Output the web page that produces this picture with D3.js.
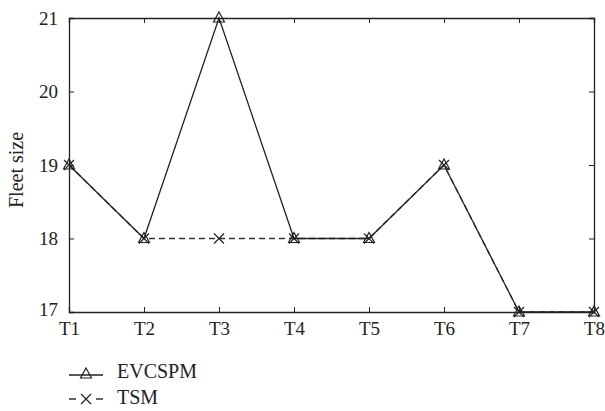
<!DOCTYPE html>
<html>
<head>
<meta charset="utf-8">
<script src="https://cdn.jsdelivr.net/npm/d3@7"></script>
<style>
  body { margin: 0; background: #fff; }
  svg text { font-family: "Liberation Serif", "Times New Roman", Times, serif; fill: #222; }
</style>
</head>
<body>
<div id="chart"></div>
<script>
// 数据
const periods = ["T1", "T2", "T3", "T4", "T5", "T6", "T7", "T8"];
const evcspm = [19, 18, 21, 18, 18, 19, 17, 17];
const tsm = [19, 18, 18, 18, 18, 19, 17, 17];
const yTicks = [17, 18, 19, 20, 21];

const width = 605, height = 411;
const margin = { top: 18, right: 11, bottom: 99, left: 69 };
const serif = '"Liberation Serif", "Times New Roman", Times, serif';

const svg = d3.select('#chart').append('svg')
    .attr('width', width)
    .attr('height', height);

const x = d3.scalePoint()
    .domain(periods)
    .range([margin.left, width - margin.right]);

const y = d3.scaleLinear()
    .domain([17, 21])
    .range([height - margin.bottom, margin.top]);

const ink = '#222';

// 坐标轴 (刻度朝内)
const xAxis = svg.append('g')
    .attr('transform', `translate(0,${height - margin.bottom})`)
    .call(d3.axisBottom(x).tickSize(-5).tickPadding(10));
const yAxis = svg.append('g')
    .attr('transform', `translate(${margin.left},0)`)
    .call(d3.axisLeft(y).tickValues(yTicks).tickSize(-5).tickPadding(11).tickFormat(d3.format('d')));

// 上/右边框的刻度
svg.append('g')
    .attr('transform', `translate(0,${margin.top})`)
    .call(d3.axisTop(x).tickSize(-5).tickFormat(''));
svg.append('g')
    .attr('transform', `translate(${width - margin.right},0)`)
    .call(d3.axisRight(y).tickValues(yTicks).tickSize(-5).tickFormat(''));

svg.selectAll('g').attr('font-family', serif);
svg.selectAll('.domain').attr('stroke', ink).attr('stroke-width', 1.3);
svg.selectAll('.tick line').attr('stroke', ink).attr('stroke-width', 1);
svg.selectAll('.tick text')
    .attr('font-family', serif)
    .attr('font-size', 19)
    .attr('fill', ink);
// 17 的标签稍向上偏
yAxis.selectAll('.tick text').filter(d => d === 17).attr('dy', '0.2em');

// y轴标签
svg.append('text')
    .attr('transform', 'rotate(-90)')
    .attr('x', -170)
    .attr('y', 23)
    .attr('text-anchor', 'middle')
    .style('font-size', '20px')
    .text('Fleet size');

const line = d3.line()
    .x((d, i) => x(periods[i]))
    .y(d => y(d));

// TSM 虚线
svg.append('path')
    .datum(tsm)
    .attr('fill', 'none')
    .attr('stroke', '#333')
    .attr('stroke-width', 1.3)
    .attr('stroke-dasharray', '6,4')
    .attr('d', line);

// EVCSPM 实线
svg.append('path')
    .datum(evcspm)
    .attr('fill', 'none')
    .attr('stroke', ink)
    .attr('stroke-width', 1.3)
    .attr('d', line);

const triPath = 'M0,-6L5.5,4L-5.5,4Z';
const crossPath = 'M-5,-5L5,5M-5,5L5,-5';

function drawTri(g, cx, cy) {
    g.append('path')
        .attr('d', triPath)
        .attr('transform', `translate(${cx},${cy})`)
        .attr('fill', 'none')
        .attr('stroke', ink)
        .attr('stroke-width', 1.2);
}
function drawCross(g, cx, cy) {
    g.append('path')
        .attr('d', crossPath)
        .attr('transform', `translate(${cx},${cy})`)
        .attr('fill', 'none')
        .attr('stroke', ink)
        .attr('stroke-width', 1.2);
}

const marks = svg.append('g');
tsm.forEach((v, i) => drawCross(marks, x(periods[i]), y(v)));
evcspm.forEach((v, i) => drawTri(marks, x(periods[i]), y(v)));

// 图例
const legend = svg.append('g');
const lx0 = 69, lx1 = 103, lmid = (lx0 + lx1) / 2;
const ly1 = 375, ly2 = 399;

legend.append('line')
    .attr('x1', lx0).attr('x2', lx1).attr('y1', ly1).attr('y2', ly1)
    .attr('stroke', ink).attr('stroke-width', 1.3);
drawTri(legend, lmid, ly1 - 1);
legend.append('text')
    .attr('x', 117).attr('y', 378)
    .style('font-size', '20px')
    .text('EVCSPM');

legend.append('line')
    .attr('x1', lx0).attr('x2', lx1).attr('y1', ly2).attr('y2', ly2)
    .attr('stroke', '#333').attr('stroke-width', 1.3)
    .attr('stroke-dasharray', '7,20');
drawCross(legend, lmid, ly2);
legend.append('text')
    .attr('x', 117).attr('y', 404)
    .style('font-size', '20px')
    .text('TSM');
</script>
</body>
</html>
